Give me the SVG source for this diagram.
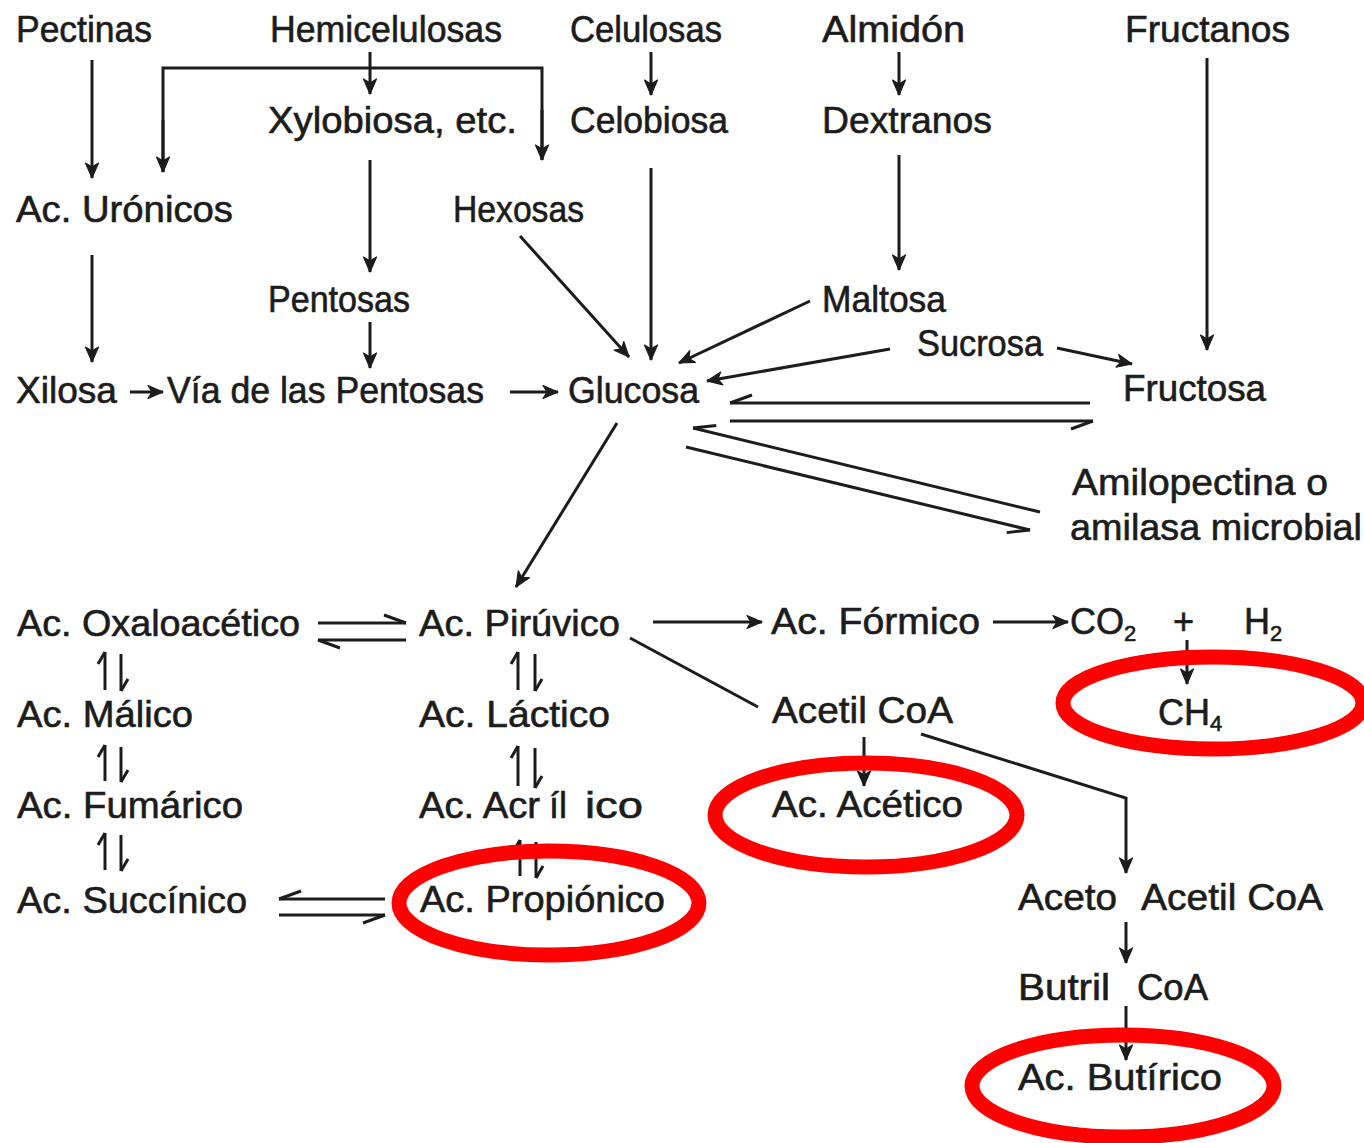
<svg xmlns="http://www.w3.org/2000/svg" width="1364" height="1143" viewBox="0 0 1364 1143">
  <style>
    text { font-family: "Liberation Sans", Arial, sans-serif; font-size: 36px; fill: #1c1c1c; stroke: #1c1c1c; stroke-width: 0.6px; }
    .sub { font-size: 22px; }
    .ln { stroke: #1c1c1c; stroke-width: 3; fill: none; }
    .arr { marker-end: url(#ah); }
    .hl { marker-end: url(#hL); }
    .hr { marker-end: url(#hR); }
    .vs { marker-end: url(#vL); }
    .ring { fill: none; stroke: #ff0000; stroke-width: 15; }
  </style>
  <defs>
    <!-- barbed arrowhead -->
    <marker id="ah" viewBox="0 0 16 16" refX="15" refY="8" markerWidth="16" markerHeight="16" markerUnits="userSpaceOnUse" orient="auto" overflow="visible">
      <path d="M0,1.5 L15,8 L0,14.5 L4,8 Z" fill="#1c1c1c" stroke="#1c1c1c" stroke-width="1.2" stroke-linejoin="round"/>
    </marker>
    <!-- half arrowheads (harpoons) for reversible steps -->
    <marker id="hL" viewBox="-24 -10 26 20" refX="0" refY="0" markerWidth="26" markerHeight="20" markerUnits="userSpaceOnUse" orient="auto" overflow="visible">
      <path d="M0,0 L-22,-8" fill="none" stroke="#1c1c1c" stroke-width="3"/>
    </marker>
    <marker id="hR" viewBox="-24 -10 26 20" refX="0" refY="0" markerWidth="26" markerHeight="20" markerUnits="userSpaceOnUse" orient="auto" overflow="visible">
      <path d="M0,0 L-22,8" fill="none" stroke="#1c1c1c" stroke-width="3"/>
    </marker>
    <marker id="vL" viewBox="-14 -10 16 20" refX="0" refY="0" markerWidth="16" markerHeight="20" markerUnits="userSpaceOnUse" orient="auto" overflow="visible">
      <path d="M0,0 L-12,-7" fill="none" stroke="#1c1c1c" stroke-width="3"/>
    </marker>
  </defs>

  <rect width="1364" height="1143" fill="#ffffff"/>

  <!-- connectors -->
  <g id="connectors">
    <!-- polysaccharides to first products -->
    <line class="ln arr" x1="92" y1="60" x2="92" y2="178"/>
    <polyline class="ln" points="163,172 163,68 542,68 542,160"/>
    <line class="ln arr" x1="163" y1="120" x2="163" y2="172"/>
    <line class="ln arr" x1="542" y1="110" x2="542" y2="160"/>
    <line class="ln arr" x1="370" y1="52" x2="370" y2="94"/>
    <line class="ln arr" x1="651" y1="52" x2="651" y2="95"/>
    <line class="ln arr" x1="899" y1="52" x2="899" y2="95"/>
    <line class="ln arr" x1="1207" y1="58" x2="1207" y2="350"/>
    <line class="ln arr" x1="370" y1="160" x2="370" y2="272"/>
    <line class="ln arr" x1="651" y1="168" x2="651" y2="360"/>
    <line class="ln arr" x1="899" y1="155" x2="899" y2="270"/>
    <line class="ln arr" x1="92" y1="255" x2="92" y2="362"/>
    <line class="ln arr" x1="370" y1="322" x2="370" y2="368"/>
    <!-- towards glucose -->
    <line class="ln arr" x1="130" y1="392" x2="163" y2="392"/>
    <line class="ln arr" x1="510" y1="392" x2="558" y2="392"/>
    <line class="ln arr" x1="520" y1="236" x2="629" y2="357"/>
    <line class="ln arr" x1="810" y1="301" x2="679" y2="363"/>
    <line class="ln arr" x1="890" y1="349" x2="707" y2="381"/>
    <line class="ln arr" x1="1057" y1="348" x2="1132" y2="364"/>
    <!-- glucose / fructose -->
    <line class="ln hr" x1="1090" y1="403" x2="730" y2="403"/>
    <line class="ln hr" x1="730" y1="421" x2="1093" y2="421"/>
    <!-- glucose / amylopectin -->
    <line class="ln hr" x1="1040" y1="512" x2="693" y2="428"/>
    <line class="ln hr" x1="686" y1="447" x2="1030" y2="530"/>
    <!-- glucose to pyruvate -->
    <line class="ln arr" x1="617" y1="423" x2="516" y2="587"/>
    <!-- oxaloacetate / pyruvate -->
    <line class="ln hl" x1="318" y1="623" x2="406" y2="623"/>
    <line class="ln hl" x1="406" y1="640" x2="318" y2="640"/>
    <!-- left column reversible steps -->
    <line class="ln vs" x1="105" y1="690" x2="105" y2="652"/>
    <line class="ln vs" x1="121" y1="654" x2="121" y2="691"/>
    <line class="ln vs" x1="105" y1="781" x2="105" y2="745"/>
    <line class="ln vs" x1="121" y1="747" x2="121" y2="782"/>
    <line class="ln vs" x1="105" y1="870" x2="105" y2="833"/>
    <line class="ln vs" x1="121" y1="835" x2="121" y2="871"/>
    <!-- middle column reversible steps -->
    <line class="ln vs" x1="518" y1="690" x2="518" y2="652"/>
    <line class="ln vs" x1="535" y1="654" x2="535" y2="691"/>
    <line class="ln vs" x1="518" y1="786" x2="518" y2="746"/>
    <line class="ln vs" x1="535" y1="748" x2="535" y2="788"/>
    <line class="ln vs" x1="520" y1="876" x2="520" y2="840"/>
    <line class="ln vs" x1="536" y1="842" x2="536" y2="878"/>
    <!-- succinate / propionate -->
    <line class="ln hr" x1="385" y1="899" x2="279" y2="899"/>
    <line class="ln hr" x1="279" y1="915" x2="385" y2="915"/>
    <!-- pyruvate onwards -->
    <line class="ln arr" x1="653" y1="622" x2="762" y2="622"/>
    <line class="ln arr" x1="993" y1="622" x2="1068" y2="622"/>
    <line class="ln arr" x1="1187" y1="640" x2="1187" y2="684"/>
    <line class="ln" x1="630" y1="638" x2="758" y2="707"/>
    <line class="ln arr" x1="864" y1="737" x2="864" y2="786"/>
    <polyline class="ln arr" points="921,734 1126,798 1126,873"/>
    <line class="ln arr" x1="1126" y1="922" x2="1126" y2="963"/>
    <line class="ln arr" x1="1126" y1="1006" x2="1126" y2="1060"/>
  </g>

  <!-- nodes -->
  <g id="n-pectinas"><text x="16" y="42" textLength="136" lengthAdjust="spacingAndGlyphs">Pectinas</text></g>
  <g id="n-hemicelulosas"><text x="270" y="42" textLength="232" lengthAdjust="spacingAndGlyphs">Hemicelulosas</text></g>
  <g id="n-celulosas"><text x="570" y="42" textLength="152" lengthAdjust="spacingAndGlyphs">Celulosas</text></g>
  <g id="n-almidon"><text x="822" y="42" textLength="143" lengthAdjust="spacingAndGlyphs">Almidón</text></g>
  <g id="n-fructanos"><text x="1125" y="42" textLength="165" lengthAdjust="spacingAndGlyphs">Fructanos</text></g>

  <g id="n-xylobiosa"><text x="268" y="133" textLength="249" lengthAdjust="spacingAndGlyphs">Xylobiosa, etc.</text></g>
  <g id="n-celobiosa"><text x="570" y="133" textLength="158" lengthAdjust="spacingAndGlyphs">Celobiosa</text></g>
  <g id="n-dextranos"><text x="822" y="133" textLength="170" lengthAdjust="spacingAndGlyphs">Dextranos</text></g>

  <g id="n-uronicos"><text x="16" y="222" textLength="217" lengthAdjust="spacingAndGlyphs">Ac. Urónicos</text></g>
  <g id="n-hexosas"><text x="453" y="222" textLength="131" lengthAdjust="spacingAndGlyphs">Hexosas</text></g>

  <g id="n-pentosas"><text x="268" y="312" textLength="142" lengthAdjust="spacingAndGlyphs">Pentosas</text></g>
  <g id="n-maltosa"><text x="822" y="312" textLength="124" lengthAdjust="spacingAndGlyphs">Maltosa</text></g>
  <g id="n-sucrosa"><text x="917" y="356" textLength="126" lengthAdjust="spacingAndGlyphs">Sucrosa</text></g>

  <g id="n-xilosa"><text x="16" y="403" textLength="101" lengthAdjust="spacingAndGlyphs">Xilosa</text></g>
  <g id="n-via"><text x="167" y="403" textLength="317" lengthAdjust="spacingAndGlyphs">Vía de las Pentosas</text></g>
  <g id="n-glucosa"><text x="568" y="403" textLength="131" lengthAdjust="spacingAndGlyphs">Glucosa</text></g>
  <g id="n-fructosa"><text x="1123" y="401" textLength="143" lengthAdjust="spacingAndGlyphs">Fructosa</text></g>

  <g id="n-amilopectina">
    <text x="1072" y="495" textLength="256" lengthAdjust="spacingAndGlyphs">Amilopectina o</text>
    <text x="1070" y="540" textLength="292" lengthAdjust="spacingAndGlyphs">amilasa microbial</text>
  </g>

  <g id="n-oxaloacetico"><text x="17" y="636" textLength="283" lengthAdjust="spacingAndGlyphs">Ac. Oxaloacético</text></g>
  <g id="n-piruvico"><text x="419" y="636" textLength="201" lengthAdjust="spacingAndGlyphs">Ac. Pirúvico</text></g>
  <g id="n-formico"><text x="771" y="634" textLength="209" lengthAdjust="spacingAndGlyphs">Ac. Fórmico</text></g>
  <g id="n-co2-h2">
    <text x="1070" y="634">CO<tspan class="sub" dy="7">2</tspan></text>
    <text x="1173" y="634">+</text>
    <text x="1244" y="634">H<tspan class="sub" dy="7">2</tspan></text>
  </g>

  <g id="n-malico"><text x="17" y="727" textLength="176" lengthAdjust="spacingAndGlyphs">Ac. Málico</text></g>
  <g id="n-lactico"><text x="419" y="727" textLength="191" lengthAdjust="spacingAndGlyphs">Ac. Láctico</text></g>
  <g id="n-acetilcoa"><text x="772" y="723" textLength="181" lengthAdjust="spacingAndGlyphs">Acetil CoA</text></g>
  <g id="n-ch4"><text x="1158" y="725">CH<tspan class="sub" dy="6">4</tspan></text></g>

  <g id="n-fumarico"><text x="17" y="818" textLength="226" lengthAdjust="spacingAndGlyphs">Ac. Fumárico</text></g>
  <g id="n-acrilico">
    <text x="419" y="818" textLength="121" lengthAdjust="spacingAndGlyphs">Ac. Acr</text>
    <text x="549" y="818">íl</text>
    <text x="585" y="818" textLength="58" lengthAdjust="spacingAndGlyphs">ico</text>
  </g>
  <g id="n-acetico"><text x="772" y="817" textLength="191" lengthAdjust="spacingAndGlyphs">Ac. Acético</text></g>

  <g id="n-succinico"><text x="17" y="913" textLength="230" lengthAdjust="spacingAndGlyphs">Ac. Succínico</text></g>
  <g id="n-propionico"><text x="420" y="912" textLength="245" lengthAdjust="spacingAndGlyphs">Ac. Propiónico</text></g>
  <g id="n-acetoacetil">
    <text x="1018" y="910" textLength="99" lengthAdjust="spacingAndGlyphs">Aceto</text>
    <text x="1141" y="910" textLength="182" lengthAdjust="spacingAndGlyphs">Acetil CoA</text>
  </g>
  <g id="n-butrilcoa">
    <text x="1018" y="1000" textLength="92" lengthAdjust="spacingAndGlyphs">Butril</text>
    <text x="1137" y="1000" textLength="71" lengthAdjust="spacingAndGlyphs">CoA</text>
  </g>
  <g id="n-butirico"><text x="1018" y="1090" textLength="204" lengthAdjust="spacingAndGlyphs">Ac. Butírico</text></g>

  <!-- highlight rings around end products -->
  <g id="highlights">
    <ellipse class="ring" cx="1213" cy="703" rx="150" ry="46"/>
    <ellipse class="ring" cx="866" cy="815" rx="151" ry="52"/>
    <ellipse class="ring" cx="549" cy="903" rx="150" ry="52"/>
    <ellipse class="ring" cx="1123" cy="1086" rx="151" ry="51"/>
  </g>
</svg>
